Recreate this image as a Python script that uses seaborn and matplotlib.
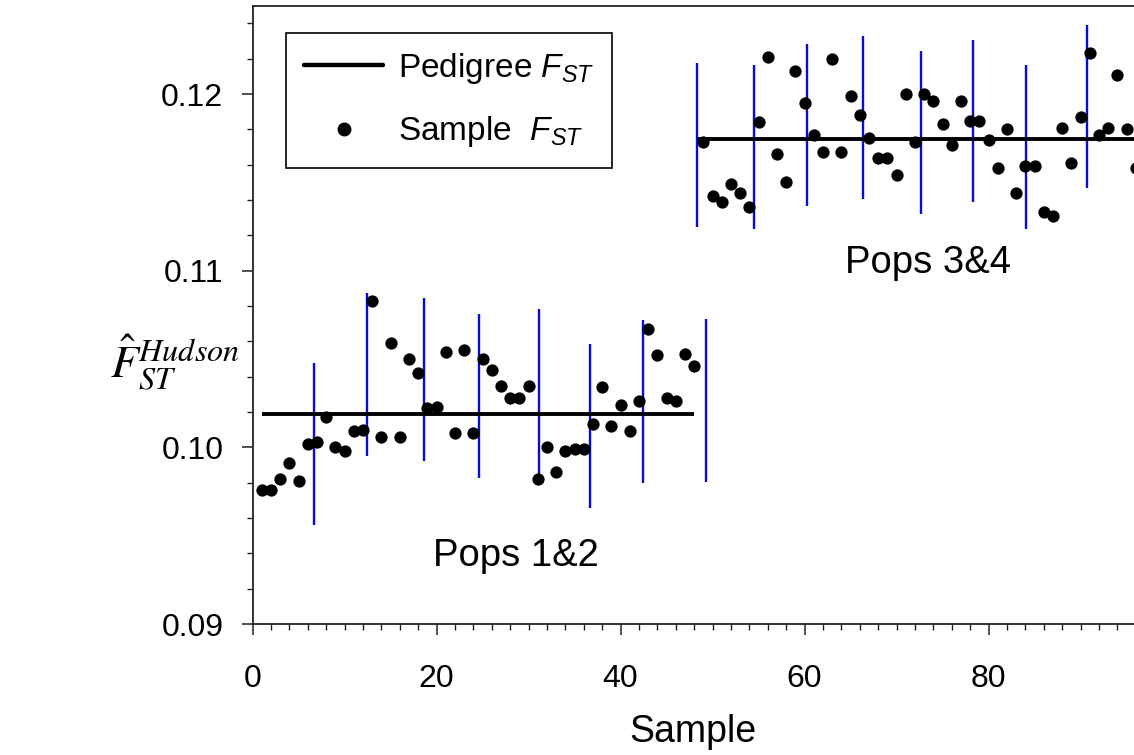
import matplotlib
matplotlib.use("Agg")
import matplotlib.pyplot as plt
from matplotlib.lines import Line2D
from matplotlib.ticker import MultipleLocator, FormatStrFormatter
import numpy as np
import pandas as pd
import seaborn as sns

# ---------------- data ----------------
samples_pops12 = list(range(1, 49))
fst_pops12 = [0.0976, 0.0976, 0.0982, 0.0991, 0.0981, 0.1002, 0.1003, 0.1017,
              0.1000, 0.0998, 0.1009, 0.1010, 0.1083, 0.1006, 0.1059, 0.1006,
              0.1050, 0.1042, 0.1022, 0.1023, 0.1054, 0.1008, 0.1055, 0.1008,
              0.1050, 0.1044, 0.1035, 0.1028, 0.1028, 0.1035, 0.0982, 0.1000,
              0.0986, 0.0998, 0.0999, 0.0999, 0.1013, 0.1034, 0.1012, 0.1024,
              0.1009, 0.1026, 0.1067, 0.1052, 0.1028, 0.1026, 0.1053, 0.1046]
samples_pops34 = list(range(49, 97))
fst_pops34 = [0.1173, 0.1142, 0.1139, 0.1149, 0.1144, 0.1136, 0.1184, 0.1221,
              0.1166, 0.1150, 0.1213, 0.1195, 0.1177, 0.1167, 0.1220, 0.1167,
              0.1199, 0.1188, 0.1175, 0.1164, 0.1164, 0.1154, 0.1200, 0.1173,
              0.1200, 0.1196, 0.1183, 0.1171, 0.1196, 0.1185, 0.1185, 0.1174,
              0.1158, 0.1180, 0.1144, 0.1159, 0.1159, 0.1133, 0.1131, 0.1181,
              0.1161, 0.1187, 0.1223, 0.1177, 0.1181, 0.1211, 0.1180, 0.1158]

pedigree_start = [1, 48.3]
pedigree_end = [48, 96]
pedigree_fst = [0.1019, 0.11746]

range_pos = [6.65, 12.45, 18.67, 24.6, 31.1, 36.65, 42.45, 49.3,
             48.3, 54.5, 60.3, 66.3, 72.7, 78.3, 84.1, 90.7]
range_low = [0.09558, 0.09953, 0.09921, 0.09827, 0.09822, 0.09658, 0.09797, 0.09806,
             0.11245, 0.11238, 0.11364, 0.11405, 0.11323, 0.11387, 0.11238, 0.11467]
range_high = [0.10480, 0.10875, 0.10843, 0.10753, 0.10781, 0.10587, 0.10719, 0.10728,
              0.12173, 0.12164, 0.12286, 0.12329, 0.12244, 0.12308, 0.12164, 0.12389]

group_labels = ["Pops 1&2", "Pops 3&4"]
group_label_x = [28.66, 73.4]
group_label_y = [0.09331, 0.10988]

x_ticks = [0, 20, 40, 60, 80]
y_ticks = [0.09, 0.10, 0.11, 0.12]

# ---------------- style ----------------
sns.set_style("white")
plt.rcParams["font.family"] = ["Liberation Sans", "DejaVu Sans"]
plt.rcParams["text.color"] = "black"
plt.rcParams["axes.labelcolor"] = "black"
plt.rcParams["xtick.color"] = "black"
plt.rcParams["ytick.color"] = "black"
plt.rcParams["mathtext.fontset"] = "custom"
plt.rcParams["mathtext.rm"] = "Liberation Sans"
plt.rcParams["mathtext.it"] = "Liberation Sans:italic"
plt.rcParams["mathtext.bf"] = "Liberation Sans:bold"

df = pd.DataFrame({
    "Sample": samples_pops12 + samples_pops34,
    "Fst": fst_pops12 + fst_pops34,
})

W, H = 1134, 755
fig = plt.figure(figsize=(W / 100, H / 100), dpi=100)
left_px, bottom_px, top_px = 252.5, 624.0, 5.7
ax = fig.add_axes([left_px / W, (H - bottom_px) / H, 1 - left_px / W, (bottom_px - top_px) / H])

# range bars
ax.vlines(range_pos, range_low, range_high, color="#0a0ad8", lw=1.7, zorder=2)
# pedigree lines
ax.hlines(pedigree_fst, pedigree_start, pedigree_end, color="black", lw=2.8, zorder=3)
# sample points
sns.scatterplot(data=df, x="Sample", y="Fst", color="black", s=78, linewidth=0,
                ax=ax, legend=False, zorder=4)

ax.set_xlim(0, 95.8)
ax.set_ylim(0.09, 0.125)
ax.set_xticks(x_ticks)
ax.set_yticks(y_ticks)
ax.xaxis.set_minor_locator(MultipleLocator(2))
ax.yaxis.set_minor_locator(MultipleLocator(0.002))
ax.yaxis.set_major_formatter(FormatStrFormatter("%.2f"))
ax.tick_params(axis="both", which="major", direction="out", length=8, width=1.1,
               color="#222222", labelsize=23, labelcolor="black")
ax.tick_params(axis="both", which="minor", direction="out", length=4.5, width=1.0,
               color="#222222")
ax.tick_params(axis="x", which="major", pad=21)
ax.tick_params(axis="y", which="major", pad=13)
ax.tick_params(left=True, bottom=True, which="both")

for side in ["left", "bottom", "top"]:
    ax.spines[side].set_visible(True)
    ax.spines[side].set_color("#222222")
    ax.spines[side].set_linewidth(1.3)
ax.spines["right"].set_visible(False)
ax.grid(False)

ax.set_xlabel("Sample", fontsize=27, labelpad=14, color="black")
ax.set_ylabel("")
fig.text(110 / W, (H - 362) / H, r"$\hat{F}_{ST}^{Hudson}$", fontsize=33,
         ha="left", va="center", math_fontfamily="stix", color="black")

for lab, gx, gy in zip(group_labels, group_label_x, group_label_y):
    ax.text(gx, gy, lab, fontsize=27.5, ha="center", va="baseline", color="black")

handles = [Line2D([0], [0], color="black", lw=3.2),
           Line2D([0], [0], color="black", marker="o", linestyle="none", markersize=9)]
leg = ax.legend(handles, [r"Pedigree $F_{ST}$", r"Sample  $F_{ST}$"],
                loc="upper left", bbox_to_anchor=((286 - left_px) / (W - left_px),
                                                  (bottom_px - 32.7) / (bottom_px - top_px)),
                borderaxespad=0, fontsize=24, frameon=True, fancybox=False,
                edgecolor="black", framealpha=1, handlelength=2.35, handletextpad=0.45,
                labelspacing=0.85, borderpad=0.55)
leg.get_frame().set_linewidth(1.2)
for t in leg.get_texts():
    t.set_color("black")

fig.savefig("out.png", dpi=100)
